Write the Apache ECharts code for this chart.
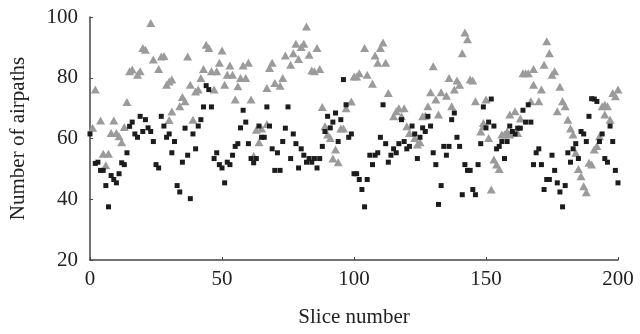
<!DOCTYPE html>
<html>
<head>
<meta charset="utf-8">
<script src="https://cdn.jsdelivr.net/npm/echarts@6/dist/echarts.min.js"></script>
<style>
  html, body { margin: 0; padding: 0; background: #fff; }
  #main { width: 640px; height: 334px; }
</style>
</head>
<body>
<div id="main"></div>
<script>
// slice number, number of airpaths
var squarePoints = [
    [0,61.5],[2,51.8],[3,52.2],[4,49.5],[5,49.5],[6,44.5],[7,37.5],[8,47.8],[9,46.5],[10,45.4],
    [11,48.4],[12,52],[13,51.4],[14,55.3],[15,64],[16,65.4],[17,61.5],[18,60.4],[19,67.3],[20,62.3],
    [21,66.2],[22,63.5],[23,62.3],[24,59],[25,51.4],[26,50.3],[27,67.3],[28,64.1],[29,60.4],[30,61.5],
    [31,55.3],[32,59],[33,44.5],[34,42.4],[35,52.2],[36,63.4],[37,54.5],[38,40.2],[39,61.5],[40,56.6],
    [41,64.1],[42,66.2],[43,70.4],[44,77.4],[45,76.1],[46,70.4],[47,53.4],[48,55.3],[49,51.4],[50,50.3],
    [51,45.4],[52,52.2],[53,51.4],[54,54.5],[55,57.4],[56,58.3],[57,63.5],[58,69.3],[59,65.4],[60,58.3],
    [61,53.4],[62,52],[63,53.4],[64,64.1],[65,60.4],[66,60.4],[67,70.4],[68,64.1],[69,56.6],[70,49.5],
    [71,55.3],[72,49.5],[73,59],[74,63.4],[75,70.4],[76,53.4],[77,61.5],[78,58.3],[79,50.3],[80,56.6],
    [81,54.5],[82,52.2],[83,53.4],[84,52.2],[85,53.4],[86,50.3],[87,53.4],[88,57.4],[89,62.3],[90,67.3],
    [91,63.5],[92,65.4],[93,68.4],[94,59],[95,66.2],[96,79.4],[97,71.1],[98,60.4],[99,61.5],[100,48.4],
    [101,48.4],[102,46.5],[103,43.2],[104,37.5],[105,46.5],[106,54.5],[107,51.4],[108,54.5],[109,55.3],[110,60.4],
    [111,71.1],[112,58.3],[113,52.2],[114,54.5],[115,56.6],[116,55.3],[117,58.3],[118,66.2],[119,59],[120,56.6],
    [121,57.4],[122,64.1],[123,61.5],[124,53.4],[125,60.4],[126,63.5],[127,62.3],[128,67.3],[129,64.1],[130,55.3],
    [131,51.4],[132,38.3],[133,44.5],[134,57.4],[135,54.5],[136,57.4],[137,66.2],[138,68.4],[139,60.4],[140,57.4],
    [141,41.5],[142,51.4],[143,49.5],[144,49.5],[145,43.2],[146,41.5],[147,51.4],[148,58.3],[149,70.4],[150,63.5],
    [151,65.4],[152,73],[153,64.1],[154,56.6],[155,57.4],[156,59],[157,53.4],[158,59],[159,64.1],[160,62.3],
    [161,61.5],[162,63.4],[163,63.4],[164,69.3],[165,65.4],[166,71.1],[167,65.4],[168,51.4],[169,55.3],[170,56.6],
    [171,51.4],[172,43.2],[173,46.5],[174,46.5],[175,54.5],[176,49.5],[177,45.4],[178,42.4],[179,37.5],[180,44.5],
    [181,55.3],[182,52.2],[183,56.6],[184,58.3],[185,53.4],[186,62.3],[187,61.5],[188,59],[189,67.3],[190,73.1],
    [191,73],[192,72.2],[193,59],[194,61.5],[195,53.4],[196,52.2],[197,64.1],[198,59],[199,49.5],[200,45.4]
]

var trianglePoints = [
    [1,63.5],[2,76.1],[4,65.9],[5,55],[6,51.2],[7,55],[8,61.8],[9,65.9],[10,61.8],[11,60.7],
    [12,58.8],[13,63.8],[14,72],[15,82.1],[16,82.7],[18,81],[19,82.1],[20,89.8],[21,89.2],[23,98],
    [24,86],[26,82.9],[27,87],[28,87.2],[29,77.7],[30,78.8],[30,66.1],[31,68.9],[31,79.4],
    [34,70.6],[35,73.7],[36,72.3],[37,87],[38,77.7],[39,66.2],[40,75.5],[41,76.1],[42,79.9],[43,82.9],
    [44,90.9],[45,89.8],[46,82.1],[47,76.1],[48,82.1],[49,84.9],[50,89],[51,77.7],[52,81],[53,84],
    [54,81],[55,72.8],[56,77.2],[57,79.9],[58,84],[59,79.9],[60,84.9],[61,72.8],[62,54.2],[63,62.9],
    [64,58.8],[65,63.3],[67,76.6],[67,64.8],[68,83.2],[69,84.9],[70,78.3],[72,77.4],[73,79.9],[74,87.3],
    [76,84.3],[77,88.1],[78,91.2],[79,86.2],[80,90.1],[81,91.2],[82,96.9],[83,87.6],[84,82.4],[85,82.1],
    [86,89.8],[87,82.9],[88,70.4],[89,64],[90,61.3],[91,60.2],[92,53.4],[93,56.4],[94,52.2],[95,63.3],
    [96,63.3],[97,70],[99,72.2],[100,80.4],[101,80.4],[102,81.5],[104,89.8],[105,81],[107,78],[108,87.3],
    [109,84.9],[110,89.8],[111,91.6],[112,84.9],[113,75],[115,67.3],[116,69],[117,70],[118,67.3],[119,70],
    [120,64],[121,61.8],[123,60.2],[124,58],[125,58.8],[126,67.3],[127,67.5],[128,70.6],[129,75.2],[130,83.8],
    [131,72.8],[132,67.9],[133,75.2],[135,74.1],[136,79.9],[137,70.6],[138,76.1],[139,79.1],[140,77.7],[141,88.1],
    [142,94.9],[143,92.7],[144,79.4],[145,79.1],[146,72.3],[148,62.3],[149,64],[149,65.1],[150,72.8],[151,60.2],
    [152,43.2],[153,53.1],[154,51.4],[155,50],[156,61.3],[157,61.3],[158,62.3],[159,61.3],[159,67.9],[161,69],
    [162,61.8],[163,66.6],[164,81.5],[165,81.5],[166,81.5],[167,72.3],[168,82.9],[168,77.7],[170,72.3],[171,76.1],
    [172,84.3],[173,92],[174,88.1],[175,81],[176,82.1],[177,69],[178,77],[179,72.3],[180,70.6],[181,66.2],
    [182,63.3],[183,61.3],[184,55.3],[185,50],[186,47.6],[187,44.3],[188,42.3],[189,52],[190,51.4],[191,56.4],
    [192,57.5],[193,60.7],[194,70.6],[195,71.1],[196,70.6],[195,67.9],[197,66.2],[198,75],[199,73.9],[200,76.1]
]

var xName = 'Slice number'
var yName = 'Number of airpaths'

var chart = echarts.init(document.getElementById('main'))
var font = 'Liberation Serif'
var axisLine = { show: true, lineStyle: { color: '#444', width: 1.5 } }
var option = {
    backgroundColor: '#fff',
    animation: false,
    grid: { left: 89, right: 22, top: 17, bottom: 74 },
    xAxis: {
        type: 'value',
        min: 0,
        max: 200,
        interval: 50,
        name: xName,
        nameLocation: 'middle',
        nameGap: 47,
        nameTextStyle: { fontFamily: font, fontSize: 21, color: '#222' },
        axisLine: axisLine,
        axisTick: { show: true, inside: true, length: 3, lineStyle: { color: '#444' } },
        axisLabel: { fontFamily: font, fontSize: 21, color: '#222', margin: 9 },
        splitLine: { show: false },
    },
    yAxis: {
        type: 'value',
        min: 20,
        max: 100,
        interval: 20,
        name: yName,
        nameLocation: 'middle',
        nameGap: 61,
        nameTextStyle: { fontFamily: font, fontSize: 21, color: '#222' },
        axisLine: axisLine,
        axisTick: { show: true, inside: true, length: 3, lineStyle: { color: '#444' } },
        axisLabel: { fontFamily: font, fontSize: 21, color: '#222', margin: 12 },
        splitLine: { show: false },
    },
    series: [
        {
            type: 'scatter',
            symbol: 'triangle',
            symbolSize: [9, 8],
            itemStyle: { color: '#9b9b9b', opacity: 1 },
            data: trianglePoints,
        },
        {
            type: 'scatter',
            symbol: 'rect',
            symbolSize: 5,
            itemStyle: { color: '#1c1c1c', opacity: 1 },
            data: squarePoints,
        },
    ],
}
chart.setOption(option)
</script>
</body>
</html>
